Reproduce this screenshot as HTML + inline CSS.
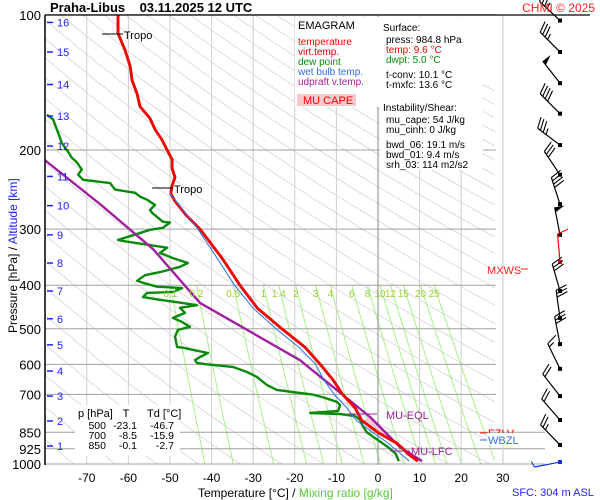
<!DOCTYPE html>
<html><head><meta charset="utf-8"><style>
html,body{margin:0;padding:0;background:#fff;}
svg{display:block;font-family:"Liberation Sans",sans-serif;}
</style></head><body>
<svg id="c" width="600" height="500" viewBox="0 0 600 500" xmlns="http://www.w3.org/2000/svg">
<g id="bg"></g><g id="grid"></g><g id="series"></g><g id="over"></g>
</svg>
<script>
// ---- data ----
const pLevels=[100,200,300,400,500,600,700,850,925,1000];
const tTicks=[-70,-60,-50,-40,-30,-20,-10,0,10,20,30];
const altKm=[16,15,14,13,12,11,10,9,8,7,6,5,4,3,2,1];
const altP=[104,121,143,168,196,229,266,309,357,412,475,543,621,706,802,912];
const tempP=[985,950,925,900,850,800,750,700,650,600,550,500,450,400,350,300,280,260,250,240,230,220,210,200,190,180,170,160,150,140,130,120,110,100];
const tempT=[9.6,7.2,6,4.6,-0.1,-3.9,-5.5,-8.5,-10.8,-13.9,-17.5,-23.1,-29,-33.2,-37.3,-42.8,-46,-48.8,-49.8,-49.5,-48.8,-49.5,-49.5,-50.7,-51.9,-53.6,-54.8,-57.2,-57.9,-59.1,-59.6,-60.8,-62.5,-62.5];
const wbP=[985,950,925,900,850,800,750,700,650,600,550,500,450,400,350,300,250];
const wbT=[7.5,5.5,4,2.5,-1.3,-5.2,-7.5,-10.5,-13,-15,-19,-24.5,-30,-34.5,-38.5,-43.3,-50];
const dewP=[985,950,925,898,850,819,798,782,774,770,762,739,727,713,700,695,684,667,640,624,608,600,596,587,578,566,557,551,549,521,503,495,483,473,461,449,443,438,431,425,416,414,406,403,395,391,380,374,364,357,348,339,330,325,320,317,312,301,298,290,289,276,272,265,258,254,249,245,237,233,227,221,213,208,202,193,183,171,167];
const dewT=[5,4.3,2.9,1,-2.7,-3.8,-4.3,-5.5,-9.1,-16.3,-9.6,-9.1,-9.9,-12.7,-15.9,-18.8,-24.3,-26.7,-29.1,-31.5,-34.9,-41.1,-43.5,-44,-42.8,-40.9,-44.5,-46.9,-48.3,-48.8,-48.1,-45.2,-47.1,-49.3,-46.4,-47.6,-43.5,-47.1,-52.4,-56.5,-55.5,-49.3,-47.1,-53.1,-56.5,-57.9,-56,-52.4,-47.6,-45.7,-49.3,-52.4,-50.7,-55.5,-60.3,-62.5,-60.1,-54.8,-51.7,-50,-51.7,-54.3,-54.8,-53.6,-55.5,-57.2,-58.4,-63.2,-64.4,-70.9,-72.1,-71.2,-72.4,-73.6,-74.5,-76,-76.9,-78.1,-79.6,-80];
const parcelP=[985,917,786,587,438,332,264,211];
const parcelT=[10.6,5.3,-1.9,-18.8,-42.8,-54.1,-66.8,-80];
const mixW=[0.1,0.2,0.5,1,1.4,2,3,4,6,8,10,12,15,20,25];
const windP=[103,121,142,166,195,227,264,309,355,412,473,541,614,706,798,907,990];
const windDir=[313,315,322,315,307,326,342,349,355,344,352,349,334,322,319,316,259];
const windSpd=[35,35,50,40,35,30,40,50,10,30,30,30,15,20,20,25,5];

// ---- scales ----
const X0=45,X1=495,Y0=15,Y1=464;
function xT(t){return 378+4.16*t;}
function yP(p){return 464-195.1*Math.log(1000/p);}
const NS="http://www.w3.org/2000/svg";
function mk(tag,attrs,parent,text){const e=document.createElementNS(NS,tag);for(const k in attrs)e.setAttribute(k,attrs[k]);if(text!==undefined)e.textContent=text;parent.appendChild(e);return e;}
const bg=document.getElementById('bg'),grid=document.getElementById('grid'),ser=document.getElementById('series'),over=document.getElementById('over');
const defs=mk('defs',{},bg);const cp=mk('clipPath',{id:'pc'},defs);mk('rect',{x:X0,y:Y0,width:X1-X0,height:Y1-Y0},cp);
const gc=mk('g',{'clip-path':'url(#pc)'},grid);
for(let th=200;th<=520;th+=10){let pts=[];for(let p=100;p<=1000;p+=20){pts.push(xT(th*Math.pow(p/1000,0.2857)-273.15).toFixed(1)+','+yP(p).toFixed(1));}
const l=mk('polyline',{points:pts.join(' '),fill:'none',stroke:'#d4d4d4','stroke-width':0.8},gc);

}
for(let t=-70;t<=30;t+=10){const l=mk('line',{x1:xT(t),x2:xT(t),y1:Y0,y2:Y1+1,stroke:t===0?'#888':'#cfcfcf','stroke-width':1},grid);

}
function tdOf(w,p){const e=w*p/(622+w);const a=Math.log(e/6.112);return 243.5*a/(17.67-a);}
mixW.forEach(w=>{let pts=[];for(let p=400;p<=1000;p+=25)pts.push(xT(tdOf(w,p)).toFixed(1)+','+yP(p).toFixed(1));
const l=mk('polyline',{points:pts.join(' '),fill:'none',stroke:'#a6f08a','stroke-width':1},gc);


const tx=mk('text',{x:xT(tdOf(w,400)),y:yP(400)+12,'font-size':10,fill:'#9acd32','text-anchor':'middle'},over,String(w));

});
pLevels.forEach(p=>{const y=yP(p);const l=mk('line',{x1:X0,x2:(p>=850?545:X1+1),y1:y,y2:y,stroke:'#a0a0a0','stroke-width':1},grid);


const t=mk('text',{x:41,y:y+5,'font-size':13,'text-anchor':'end',fill:'#000'},over,String(p));

});
tTicks.forEach(t=>{const e=mk('text',{x:xT(t),y:482,'font-size':12,'text-anchor':'middle',fill:'#000'},over,String(t));

});
altKm.forEach((k,i)=>{const y=yP(altP[i]);mk('line',{x1:47,x2:53,y1:y,y2:y,stroke:'#2222ee','stroke-width':1.5},over);
const t=mk('text',{x:57,y:y+4,'font-size':11,fill:'#2222ee'},over,String(k));

});
mk('line',{x1:X0,x2:590,y1:Y0,y2:Y0,stroke:'#000','stroke-width':1.3},over);
mk('line',{x1:X0,x2:X0,y1:Y0,y2:Y1+1,stroke:'#000','stroke-width':1.5},over);
mk('line',{x1:503,x2:503,y1:Y0,y2:Y1+1,stroke:'#cfcfcf','stroke-width':1},grid);

function line(P,T,color,w,name){const pts=P.map((p,i)=>xT(T[i]).toFixed(1)+','+yP(p).toFixed(1)).join(' ');
const l=mk('polyline',{points:pts,fill:'none',stroke:color,'stroke-width':w,'stroke-linejoin':'round','clip-path':'url(#pc)'},ser);

}
{const cpts=[[917,5.3],[786,-1.9]].map(a=>xT(a[1])+','+yP(a[0])).concat([[800,-3.9],[850,-0.1],[900,4.6]].map(a=>xT(a[1])+','+yP(a[0])));
const a=mk('polygon',{points:cpts.join(' '),fill:'#f5c6cf'},ser);

}
line(dewP,dewT,'#0a8a0a',2.4,'dewpoint-line');
line(parcelP,parcelT,'#a020a0',2.4,'parcel-line');
line(tempP,tempT,'#8b0000',2.8,'virtual-temperature-line');
line(tempP,tempT,'#ff0000',2.4,'temperature-line');
line(wbP,wbT,'#2f6fe8',1,'wet-bulb-line');

windP.forEach((p,i)=>{const y=yP(p),x=560;const a=windDir[i]*Math.PI/180;const ux=Math.sin(a),uy=-Math.cos(a);
const col=i===windP.length-1?'#1030e0':(i===8?'#ff0000':'#000');const L=i===windP.length-1?26:28;
const ex=x+ux*L,ey=y+uy*L;const g=mk('g',{},over);


mk('line',{x1:x,y1:y,x2:ex,y2:ey,stroke:col,'stroke-width':1.2},g);
mk('rect',{x:x-2,y:y-2,width:4,height:4,fill:col},g);
const px=-uy,py=ux;let s=windSpd[i];let k=0;
if(s>=50){mk('polygon',{points:`${ex},${ey} ${ex+px*10},${ey+py*10} ${ex-ux*5},${ey-uy*5}`,fill:col},g);s-=50;k=2;}
while(s>=10){const bx=ex-ux*k*3.5,by=ey-uy*k*3.5;mk('line',{x1:bx,y1:by,x2:bx+px*11+ux*4,y2:by+py*11+uy*4,stroke:col,'stroke-width':1.1},g);s-=10;k++;}
if(s>=5){const bx=ex-ux*k*3.5,by=ey-uy*k*3.5;mk('line',{x1:bx,y1:by,x2:bx+px*6+ux*2,y2:by+py*6+uy*2,stroke:col,'stroke-width':1.1},g);}
});
</script>
<script>
const s=document.getElementById('c');
s.insertAdjacentHTML('beforeend',`
<g>
<text x="50" y="12" font-size="13" font-weight="bold">Praha-Libus&#160;&#160;&#160; 03.11.2025 12 UTC</text>
<text x="595" y="12" font-size="12" fill="#ff2020" text-anchor="end">CHMI © 2025</text>
<rect x="295" y="17" width="85" height="90" fill="#fff"/>
<text x="298" y="29" font-size="11">EMAGRAM</text>
<text x="298" y="45" font-size="10" fill="#ff0000">temperature</text>
<text x="298" y="55" font-size="10" fill="#cc0000">virt.temp.</text>
<text x="298" y="65" font-size="10" fill="#0a8a0a">dew point</text>
<text x="298" y="75" font-size="10" fill="#2f6fe8">wet bulb temp.</text>
<text x="298" y="85" font-size="10" fill="#a020a0">udpraft v.temp.</text>
<rect x="297" y="94" width="59" height="12" fill="#f7c9cc"/>
<text x="303" y="104" font-size="11" fill="#ff0000">MU CAPE</text>
<rect x="380" y="17" width="103" height="153" fill="#fff"/>
<g font-size="10">
<text x="383" y="31">Surface:</text>
<text x="386" y="43">press: 984.8 hPa</text>
<text x="386" y="53" fill="#ff0000">temp: 9.6 °C</text>
<text x="386" y="63" fill="#0a8a0a">dwpt: 5.0 °C</text>
<text x="386" y="78">t-conv: 10.1 °C</text>
<text x="386" y="88">t-mxfc: 13.6 °C</text>
<text x="383" y="111">Instability/Shear:</text>
<text x="386" y="123">mu_cape: 54 J/kg</text>
<text x="386" y="133">mu_cinh: 0 J/kg</text>
<text x="386" y="148">bwd_06: 19.1 m/s</text>
<text x="386" y="158">bwd_01: 9.4 m/s</text>
<text x="386" y="168">srh_03: 114 m2/s2</text>
</g>
<rect x="75" y="405" width="105" height="51" fill="#fff"/>
<g font-size="11">
<text x="78" y="417">p [hPa]</text><text x="126" y="417" text-anchor="middle">T</text><text x="147" y="417">Td [°C]</text>
<g text-anchor="end" font-size="10.5">
<text x="106" y="429">500</text><text x="137" y="429">-23.1</text><text x="174" y="429">-46.7</text>
<text x="106" y="439">700</text><text x="137" y="439">-8.5</text><text x="174" y="439">-15.9</text>
<text x="106" y="449">850</text><text x="137" y="449">-0.1</text><text x="174" y="449">-2.7</text></g>
</g>
<line x1="102" y1="34" x2="123" y2="34" stroke="#000"/>
<text x="124" y="39" font-size="11">Tropo</text>
<line x1="152" y1="188" x2="173" y2="188" stroke="#000"/>
<text x="174" y="193" font-size="11">Tropo</text>
<line x1="348" y1="414" x2="377" y2="414" stroke="#a020a0"/>
<text x="386" y="419" font-size="11" fill="#a020a0">MU-EQL</text>
<line x1="390" y1="451" x2="410" y2="451" stroke="#a020a0"/>
<text x="411" y="455" font-size="11" fill="#a020a0">MU-LFC</text>
<line x1="480" y1="433" x2="488" y2="433" stroke="#ff0000"/>
<text x="488" y="437" font-size="11" fill="#ff0000">FZLV</text>
<rect x="486" y="433" width="36" height="12" fill="#fff"/>
<line x1="480" y1="440" x2="487" y2="440" stroke="#2f6fe8"/>
<text x="488" y="444" font-size="11" fill="#2f6fe8">WBZL</text>
<text x="487" y="274" font-size="11" fill="#ff2020">MXWS</text>
<line x1="521" y1="269" x2="528" y2="269" stroke="#ff2020"/>
<text x="17" y="333" font-size="12" transform="rotate(-90 17 333)">Pressure [hPa]  /  <tspan fill="#2222ee">Altitude [km]</tspan></text>
<text x="198" y="497" font-size="12">Temperature [°C]  /  <tspan fill="#5cc83c">Mixing ratio [g/kg]</tspan></text>
<text x="512" y="496" font-size="11" fill="#2222ee">SFC: 304 m ASL</text>
</g>`);
</script>
</body></html>
